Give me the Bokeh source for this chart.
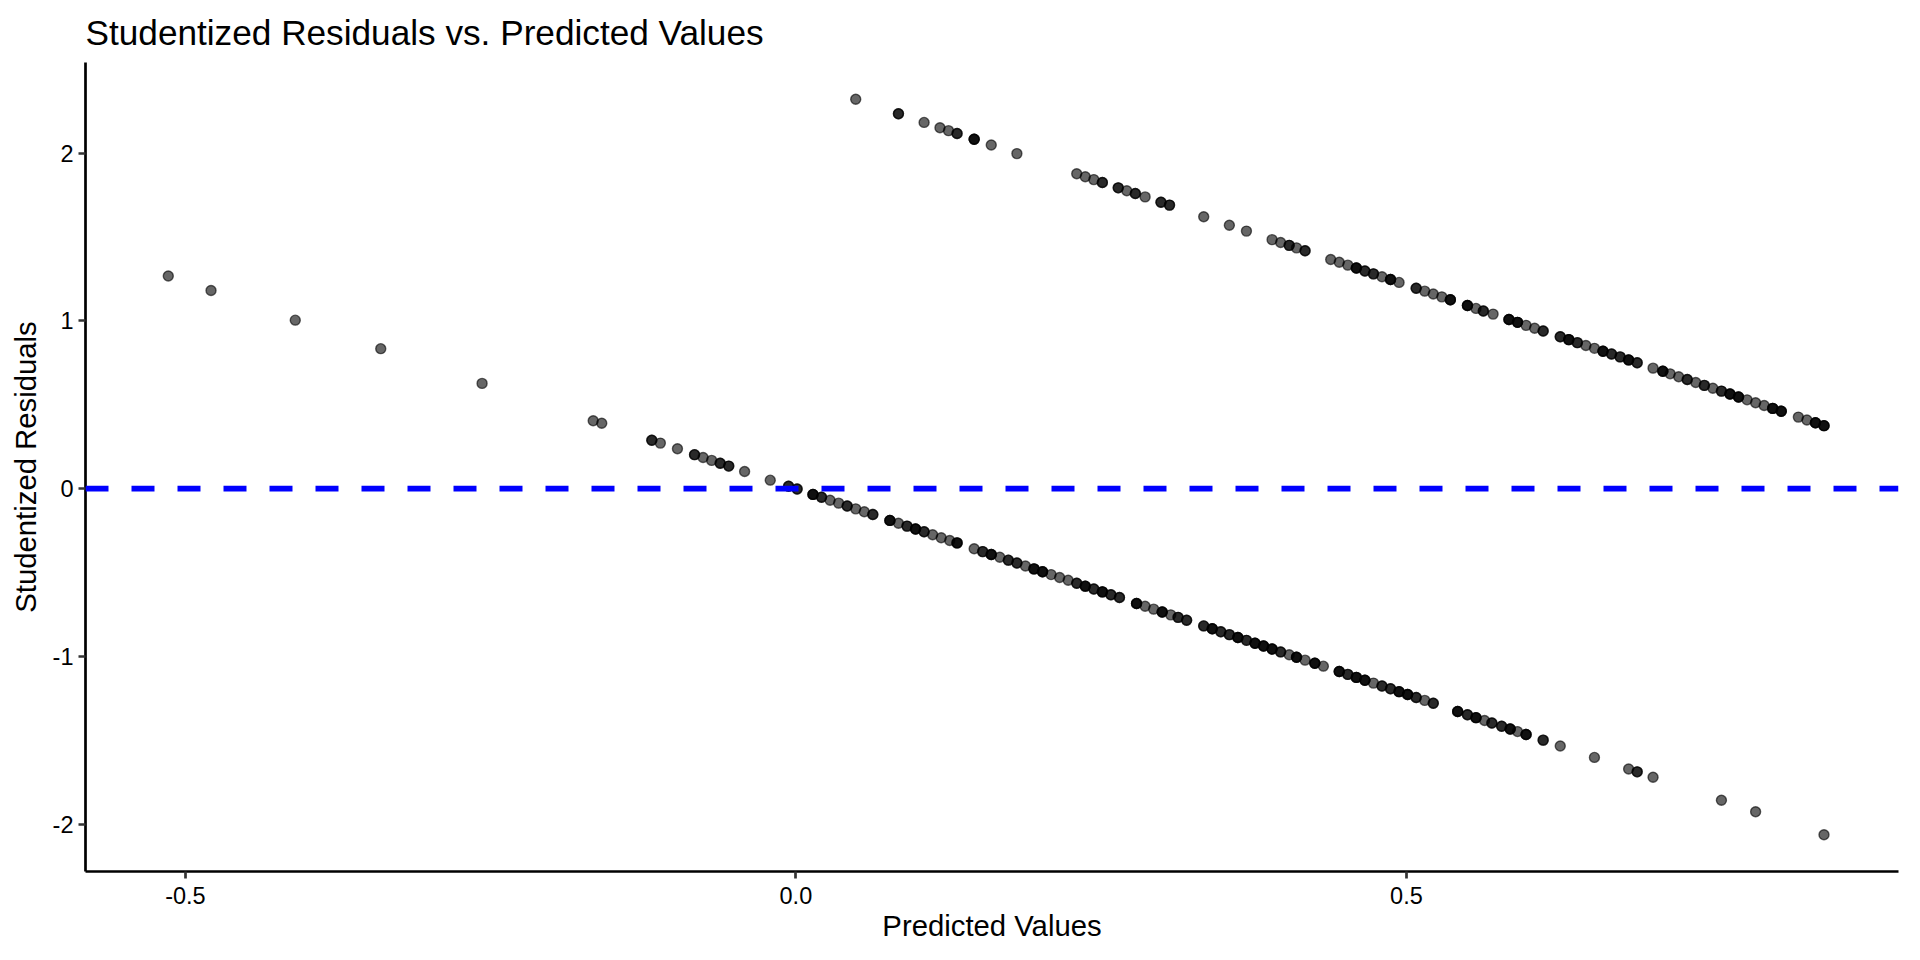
import numpy as np
from bokeh.plotting import figure
from bokeh.models import ColumnDataSource, Span, FixedTicker, Range1d
from bokeh.embed import file_html
from bokeh.resources import INLINE

title_text = "Studentized Residuals vs.  Predicted Values"
x_label = "Predicted Values"
y_label = "Studentized Residuals"

x_ticks = [-0.5, 0.0, 0.5]
x_tick_labels = ["-0.5", "0.0", "0.5"]
y_ticks = [-2, -1, 0, 1, 2]
y_tick_labels = ["-2", "-1", "0", "1", "2"]

reference_line = 0.0

# lower band: distinct (predicted, residual) positions and number of overlapping observations
lower_pred = [-0.514, -0.479, -0.410, -0.340, -0.257, -0.166, -0.159,
              -0.118, -0.111, -0.097, -0.083, -0.076, -0.069, -0.062, -0.055, -0.042, -0.021,
              -0.006, 0.001, 0.014, 0.021, 0.028, 0.035, 0.042, 0.049, 0.056, 0.063, 0.077,
              0.084, 0.091, 0.098, 0.105, 0.112, 0.119, 0.126, 0.132, 0.146, 0.153, 0.160,
              0.167, 0.174, 0.181, 0.188, 0.195, 0.202, 0.209, 0.216, 0.223, 0.230, 0.237,
              0.244, 0.251, 0.258, 0.265, 0.279, 0.286, 0.293, 0.300, 0.307, 0.313, 0.320,
              0.334, 0.341, 0.348, 0.355, 0.362, 0.369, 0.376, 0.383, 0.390, 0.397, 0.404,
              0.410, 0.417, 0.425, 0.432, 0.445, 0.452, 0.459, 0.466, 0.473, 0.480, 0.487,
              0.494, 0.501, 0.508, 0.515, 0.522, 0.542, 0.550, 0.557, 0.564, 0.570, 0.578,
              0.585, 0.591, 0.598, 0.612, 0.626, 0.654, 0.682, 0.689, 0.702, 0.758, 0.786, 0.842]
lower_resid = [1.268, 1.182, 1.005, 0.835, 0.628, 0.405, 0.390,
               0.289, 0.272, 0.238, 0.203, 0.186, 0.169, 0.152, 0.135, 0.103, 0.051,
               0.015, -0.002, -0.034, -0.051, -0.069, -0.086, -0.103, -0.120, -0.137, -0.154, -0.189,
               -0.206, -0.223, -0.240, -0.257, -0.274, -0.292, -0.309, -0.323, -0.358, -0.375, -0.392,
               -0.409, -0.426, -0.443, -0.461, -0.478, -0.495, -0.512, -0.529, -0.546, -0.564, -0.581,
               -0.598, -0.615, -0.632, -0.649, -0.684, -0.701, -0.718, -0.735, -0.752, -0.767, -0.784,
               -0.818, -0.835, -0.853, -0.870, -0.887, -0.904, -0.921, -0.938, -0.956, -0.973, -0.990,
               -1.005, -1.022, -1.041, -1.058, -1.090, -1.107, -1.125, -1.142, -1.159, -1.176, -1.193,
               -1.210, -1.227, -1.245, -1.262, -1.279, -1.328, -1.348, -1.365, -1.382, -1.397, -1.416,
               -1.433, -1.448, -1.465, -1.499, -1.534, -1.602, -1.671, -1.688, -1.720, -1.857, -1.926, -2.063]
lower_n = [1, 1, 1, 1, 1, 1, 1,
           2, 1, 1, 2, 1, 1, 2, 2, 1, 1,
           2, 2, 3, 2, 1, 1, 2, 1, 1, 2, 3,
           1, 2, 3, 2, 1, 1, 1, 3, 1, 2, 3,
           1, 2, 2, 1, 3, 3, 1, 1, 1, 2, 3,
           2, 3, 2, 2, 3, 1, 1, 3, 1, 2, 2,
           2, 3, 2, 2, 3, 2, 3, 3, 3, 2, 1,
           3, 1, 3, 1, 3, 2, 3, 3, 1, 2, 2,
           3, 3, 2, 1, 2, 3, 2, 3, 1, 2, 2,
           3, 1, 3, 2, 1, 1, 1, 2, 1, 1, 1, 1]

# upper band
upper_pred = [0.049, 0.084, 0.105, 0.118, 0.125, 0.132, 0.146, 0.160, 0.181,
              0.230, 0.237, 0.244, 0.251, 0.264, 0.271, 0.278, 0.286, 0.299, 0.306,
              0.334, 0.355, 0.369, 0.390, 0.397, 0.404, 0.410, 0.417,
              0.438, 0.445, 0.452, 0.459, 0.466, 0.473, 0.480, 0.487, 0.494,
              0.508, 0.515, 0.522, 0.529, 0.536, 0.550, 0.557, 0.563, 0.571,
              0.584, 0.591, 0.598, 0.605, 0.612, 0.626, 0.633, 0.640, 0.647, 0.654,
              0.661, 0.668, 0.675, 0.682, 0.689, 0.702, 0.710, 0.716, 0.723, 0.730,
              0.737, 0.744, 0.751, 0.758, 0.765, 0.772, 0.779, 0.786, 0.793, 0.800,
              0.807, 0.821, 0.828, 0.835, 0.842]
upper_resid = [2.322, 2.236, 2.184, 2.152, 2.135, 2.118, 2.084, 2.049, 1.998,
               1.878, 1.860, 1.843, 1.826, 1.794, 1.777, 1.760, 1.740, 1.708, 1.691,
               1.622, 1.571, 1.536, 1.485, 1.468, 1.451, 1.436, 1.419,
               1.367, 1.350, 1.333, 1.316, 1.298, 1.281, 1.264, 1.247, 1.230,
               1.195, 1.178, 1.161, 1.144, 1.127, 1.092, 1.075, 1.060, 1.041,
               1.009, 0.992, 0.974, 0.957, 0.940, 0.906, 0.889, 0.871, 0.854, 0.837,
               0.820, 0.803, 0.786, 0.768, 0.751, 0.719, 0.700, 0.685, 0.668, 0.651,
               0.633, 0.616, 0.599, 0.582, 0.565, 0.547, 0.530, 0.513, 0.496, 0.479,
               0.462, 0.427, 0.410, 0.393, 0.376]
upper_n = [1, 2, 1, 1, 1, 2, 3, 1, 1,
           1, 1, 1, 2, 2, 1, 2, 1, 2, 2,
           1, 1, 1, 1, 1, 2, 1, 2,
           1, 1, 1, 3, 2, 2, 1, 3, 1,
           2, 1, 1, 1, 3, 3, 1, 2, 1,
           3, 3, 1, 1, 2, 2, 3, 2, 1, 1,
           3, 2, 2, 3, 2, 1, 3, 1, 1, 2,
           1, 2, 1, 2, 3, 3, 1, 1, 1, 3,
           3, 1, 1, 3, 3]

pred = np.concatenate([np.repeat(lower_pred, lower_n), np.repeat(upper_pred, upper_n)])
resid = np.concatenate([np.repeat(lower_resid, lower_n), np.repeat(upper_resid, upper_n)])
src = ColumnDataSource(dict(pred=pred, resid=resid))

# ggplot-like expansion of the data range
xr = pred.max() - pred.min()
yr = resid.max() - resid.min()
x_range = Range1d(pred.min() - 0.05 * xr, pred.max() + 0.045 * xr)
y_range = Range1d(resid.min() - 0.05 * yr, resid.max() + 0.05 * yr)

FONT = "Liberation Sans"

p = figure(width=1904, height=944, output_backend="svg", toolbar_location=None,
           x_range=x_range, y_range=y_range,
           min_border_left=85, min_border_right=6, min_border_top=62, min_border_bottom=72,
           title=title_text)
p.background_fill_color = "white"
p.border_fill_color = "white"
p.outline_line_color = None
p.xgrid.grid_line_color = None
p.ygrid.grid_line_color = None

p.title.text_font = FONT
p.title.text_font_size = "35.2px"
p.title.text_font_style = "normal"
p.title.text_color = "black"
p.title.align = "left"
p.title.vertical_align = "top"
p.title.standoff = 17

p.xaxis.ticker = FixedTicker(ticks=x_ticks)
p.xaxis.major_label_overrides = {t: l for t, l in zip(x_ticks, x_tick_labels)}
p.yaxis.ticker = FixedTicker(ticks=y_ticks)
p.yaxis.major_label_overrides = {t: l for t, l in zip(y_ticks, y_tick_labels)}
p.xaxis.axis_label = x_label
p.yaxis.axis_label = y_label

for ax in (p.xaxis[0], p.yaxis[0]):
    ax.axis_line_color = "black"
    ax.axis_line_width = 2.7
    ax.major_tick_line_color = "#333333"
    ax.major_tick_line_width = 2.7
    ax.major_tick_out = 7
    ax.major_tick_in = 0
    ax.minor_tick_line_color = None
    ax.major_label_text_font = FONT
    ax.major_label_text_font_size = "23.5px"
    ax.major_label_text_color = "black"
    ax.axis_label_text_font = FONT
    ax.axis_label_text_font_size = "29.3px"
    ax.axis_label_text_font_style = "normal"
    ax.axis_label_text_color = "black"

p.xaxis[0].major_label_standoff = 8
p.xaxis[0].axis_label_standoff = 2
p.yaxis[0].major_label_standoff = 5
p.yaxis[0].axis_label_standoff = 8

p.scatter(x="pred", y="resid", source=src, size=10, marker="circle",
          fill_color="black", fill_alpha=0.6, line_color="black", line_alpha=0.6,
          line_width=1.4)

hline = Span(location=reference_line, dimension="width", line_color="#0000ff",
             line_width=5.7, line_dash="23 23")
p.add_layout(hline)

open("out.html", "w").write(file_html(p, INLINE))
